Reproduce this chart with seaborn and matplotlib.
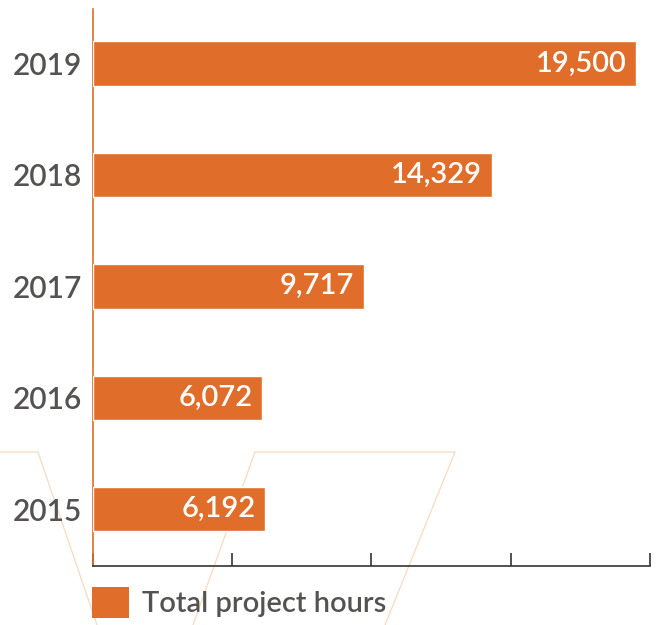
import seaborn as sns
import pandas as pd
import matplotlib.pyplot as plt
from matplotlib.patches import Patch
from matplotlib.lines import Line2D

# chart data
years = ["2019", "2018", "2017", "2016", "2015"]
hours = [19500, 14329, 9717, 6072, 6192]
series_name = "Total project hours"

orange = "#E06E2A"
grey_txt = "#555252"

sns.set_style("white")
plt.rcParams["font.family"] = ["Lato", "DejaVu Sans"]
plt.rcParams["font.weight"] = "semibold"

df = pd.DataFrame({"year": years, "hours": hours})

fig = plt.figure(figsize=(6.6, 6.25), dpi=100)
ax = fig.add_axes([0.1409, 0.0944, 0.8439, 0.8912])

# faint decorative outline in the background
deco = "#FAD9BF"
for xs, ys in [
    ([0, 38, 97], [452, 452, 625]),
    ([193, 255, 455, 385], [625, 452, 452, 625]),
]:
    fig.add_artist(Line2D([x / 660 for x in xs], [1 - y / 625 for y in ys],
                          transform=fig.transFigure, color=deco, lw=0.9, zorder=0))

sns.barplot(data=df, x="hours", y="year", orient="h", color=orange,
            saturation=1, width=0.4, ax=ax, zorder=3)
ax.patch.set_alpha(0)

ax.set_xlim(0, 20000)
ax.set_ylim(4.51, -0.49)
ax.set_xticks([0, 5000, 10000, 15000, 20000])
ax.set_xticklabels([])
ax.set_xlabel("")
ax.set_ylabel("")

sns.despine(ax=ax, top=True, right=True)
ax.spines["left"].set_color(orange)
ax.spines["left"].set_linewidth(1.2)
ax.spines["bottom"].set_color("#333333")
ax.spines["bottom"].set_linewidth(1.2)

ax.tick_params(axis="x", direction="in", length=9.5, width=1.2, color="#333333", bottom=True)
ax.tick_params(axis="y", length=0, pad=8, labelsize=21.5, labelcolor=grey_txt)

labels = ax.bar_label(ax.containers[0], labels=[f"{v:,}" for v in hours],
                      padding=-7, color="white", fontsize=21)
for t in labels:
    t.set_ha("right")

handle = Patch(facecolor=orange, edgecolor="none")
fig.legend(handles=[handle], labels=[series_name], loc="upper left",
           bbox_to_anchor=(92 / 660, 1 - 587 / 625), frameon=False,
           fontsize=21, labelcolor=grey_txt, handlelength=1.27, handleheight=1.27,
           handletextpad=0.45, borderpad=0, borderaxespad=0)

fig.savefig("out.png", dpi=100)
